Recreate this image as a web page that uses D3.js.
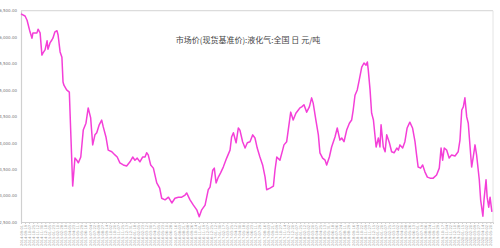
<!DOCTYPE html>
<html>
<head>
<meta charset="utf-8">
<script src="https://cdn.jsdelivr.net/npm/d3@7"></script>
<style>
  body { margin: 0; background: #fff; }
  svg { display: block; }
</style>
</head>
<body>
<svg></svg>
<script>
var width = 500;
var height = 248;
var plot = {left: 21, right: 493, top: 10.7, bottom: 222};

var title = "市场价(现货基准价):液化气:全国 日 元/吨";

// data: days after the start date, price in yuan/ton
var startDate = "2014-09-01";
var totalDays = 2100;
var dayOffsets = [0, 18, 27, 40, 49, 53, 71, 76, 85, 93, 98, 107, 116, 120, 129, 138, 142, 151, 160, 165,
  174, 182, 187, 191, 203, 215, 221, 230, 240, 248, 255, 266, 277, 289, 299, 310, 319, 329, 337, 348,
  359, 366, 378, 388, 404, 418, 428, 440, 455, 470, 485, 497, 507, 517, 529, 541, 552, 559, 566, 577,
  589, 604, 617, 626, 641, 656, 671, 685, 700, 715, 730, 737, 752, 767, 782, 793, 804, 819, 833, 841,
  853, 860, 868, 878, 888, 900, 915, 930, 937, 945, 957, 967, 974, 986, 997, 1007, 1019, 1031, 1041, 1051,
  1063, 1075, 1086, 1093, 1108, 1123, 1130, 1138, 1152, 1164, 1170, 1182, 1189, 1200, 1211, 1223, 1234, 1241, 1249, 1259,
  1271, 1283, 1293, 1300, 1312, 1323, 1330, 1342, 1353, 1360, 1372, 1382, 1397, 1407, 1419, 1427, 1437, 1449, 1461, 1471,
  1478, 1486, 1496, 1505, 1516, 1526, 1535, 1541, 1545, 1553, 1560, 1568, 1580, 1590, 1597, 1602, 1612, 1620, 1627, 1639,
  1649, 1660, 1672, 1679, 1686, 1698, 1708, 1718, 1730, 1742, 1753, 1760, 1767, 1778, 1787, 1797, 1808, 1820, 1834, 1849,
  1861, 1869, 1876, 1883, 1894, 1905, 1916, 1931, 1945, 1953, 1961, 1968, 1975, 1983, 1990, 1998, 2005, 2012, 2020, 2027,
  2039, 2045, 2055, 2060, 2069, 2074, 2081, 2087, 2095];
var prices = [6440, 6400, 6320, 6100, 5980, 6080, 6080, 6150, 6080, 5660, 5700, 5760, 5930, 5770, 5890, 5950, 5980, 6100, 6120, 6040,
  5720, 5620, 5150, 5090, 5000, 4960, 4240, 3180, 3710, 3670, 3620, 3730, 4240, 4370, 4660, 4470, 3960, 4150, 4190, 4340,
  4430, 4300, 4110, 3860, 3830, 3770, 3730, 3620, 3580, 3560, 3640, 3730, 3670, 3710, 3640, 3730, 3730, 3810, 3770, 3580,
  3520, 3240, 3140, 2950, 2920, 2970, 2860, 2950, 2970, 2970, 3010, 3050, 2920, 2820, 2730, 2600, 2730, 2820, 3110, 3160,
  3480, 3520, 3240, 3350, 3430, 3540, 3710, 3860, 4110, 4190, 4000, 4280, 4240, 4020, 3900, 4000, 4020, 4150, 4090, 3900,
  3730, 3580, 3350, 3110, 3140, 3180, 3480, 3730, 3670, 3860, 3960, 4020, 4240, 4580, 4430, 4560, 4620, 4660, 4680, 4720,
  4580, 4680, 4850, 4750, 4430, 4150, 3810, 3710, 3670, 3580, 3730, 3920, 4110, 4280, 4050, 4090, 4020, 4240, 4370, 4430,
  4620, 4900, 5000, 5190, 5430, 5510, 5470, 5530, 5380, 5000, 4560, 4430, 3920, 4090, 3920, 4340, 3920, 3830, 4150, 4000,
  3830, 3810, 3900, 3860, 3960, 3900, 4020, 4280, 4390, 4280, 4020, 3770, 3540, 3520, 3580, 3450, 3350, 3330, 3330, 3390,
  3520, 3900, 3670, 3900, 3860, 3710, 3770, 3750, 3830, 4050, 4620, 4680, 4850, 4490, 4370, 3920, 3540, 3730, 3960, 3770,
  3300, 2920, 2610, 2920, 3300, 2970, 2780, 2970, 2690];

var yTicks = [2500, 3000, 3500, 4000, 4500, 5000, 5500, 6000, 6500];
var tickStepDays = 18;

var parseDate = d3.timeParse("%Y-%m-%d");
var start = parseDate(startDate);
var end = d3.timeDay.offset(start, totalDays);
var tickDates = d3.timeDay.range(start, end, tickStepDays);

var series = dayOffsets.map(function(d, i) {
  return {date: d3.timeDay.offset(start, d), value: prices[i]};
});

var svg = d3.select("svg")
  .attr("width", width)
  .attr("height", height);

var x = d3.scaleTime()
  .domain([start, end])
  .range([plot.left, plot.right]);

var y = d3.scaleLinear()
  .domain([2500, 6500])
  .range([plot.bottom, plot.top]);

// frame: top and right border
svg.append("line")
  .attr("x1", plot.left).attr("x2", plot.right)
  .attr("y1", plot.top).attr("y2", plot.top)
  .style("stroke", "#dcdcdc").style("stroke-width", 1.2);

svg.append("line")
  .attr("x1", plot.right).attr("x2", plot.right)
  .attr("y1", plot.top).attr("y2", plot.bottom)
  .style("stroke", "#e4e4e4").style("stroke-width", 1);

// y axis
var yAxis = svg.append("g")
  .attr("transform", "translate(" + plot.left + ",0)")
  .call(d3.axisLeft(y).tickValues(yTicks).tickSize(0).tickPadding(4).tickFormat(d3.format(",.2f")));
yAxis.select(".domain").style("stroke", "#d0d0d0").style("stroke-width", 1.2);
yAxis.selectAll("text")
  .style("font-family", "DejaVu Sans")
  .style("font-size", "4px")
  .style("fill", "#777");

// x axis with rotated date labels
var xAxis = svg.append("g")
  .attr("transform", "translate(0," + plot.bottom + ")")
  .call(d3.axisBottom(x).tickValues(tickDates).tickSize(2).tickFormat(d3.timeFormat("%Y-%m-%d")));
xAxis.select(".domain").style("stroke", "#d0d0d0");
xAxis.selectAll(".tick line").style("stroke", "#d0d0d0");
xAxis.selectAll("text")
  .attr("transform", "rotate(-90)")
  .attr("x", -3)
  .attr("y", 0)
  .attr("dy", "0.35em")
  .style("text-anchor", "end")
  .style("font-family", "DejaVu Sans")
  .style("font-size", "3.6px")
  .style("fill", "#999");

// price line
var line = d3.line()
  .x(function(d) { return x(d.date); })
  .y(function(d) { return y(d.value); });

svg.append("path")
  .datum(series)
  .attr("d", line)
  .style("fill", "none")
  .style("stroke", "#f43fd8")
  .style("stroke-width", 1.5)
  .style("stroke-linejoin", "round");

// title
svg.append("text")
  .attr("x", 248)
  .attr("y", 43)
  .style("text-anchor", "middle")
  .style("font-family", "Noto Sans CJK SC")
  .style("font-size", "8px")
  .style("fill", "#444")
  .text(title);
</script>
</body>
</html>
